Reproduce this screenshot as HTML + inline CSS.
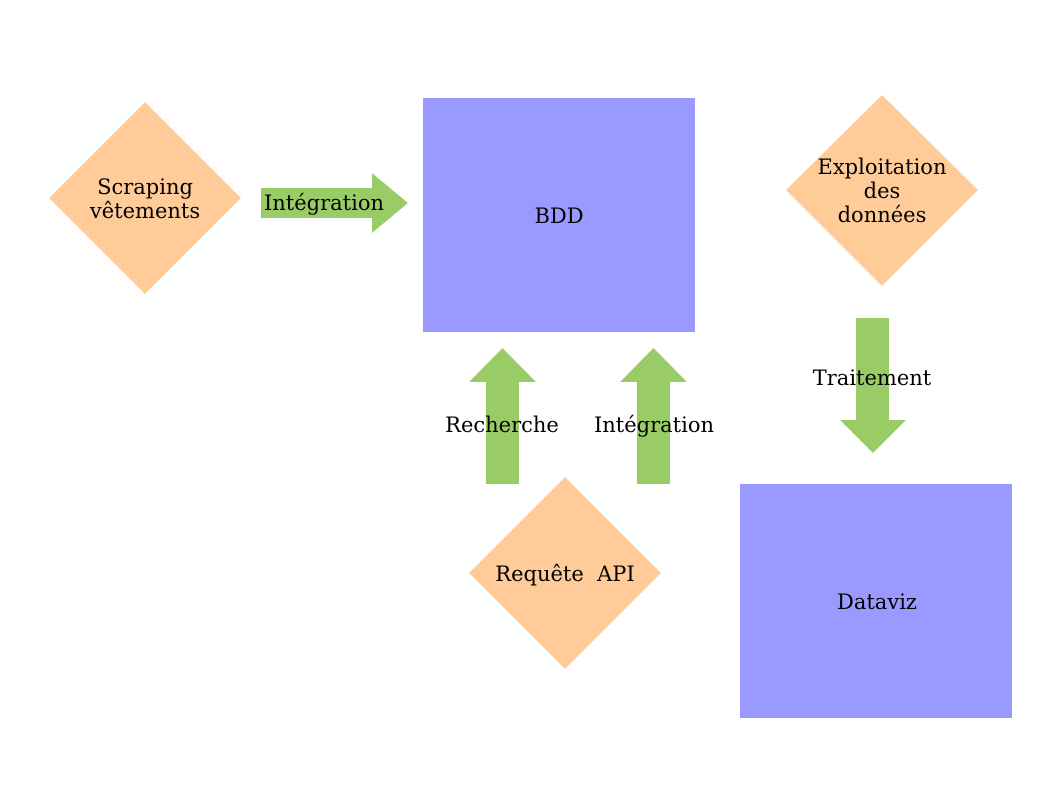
<!DOCTYPE html>
<html><head><meta charset="utf-8"><style>
html,body{margin:0;padding:0;background:#fff;}
svg{display:block;}
text{font-family:"DejaVu Serif","Liberation Serif",serif;font-size:21px;fill:#000;}
</style></head><body>
<svg width="1058" height="794" viewBox="0 0 1058 794" xmlns="http://www.w3.org/2000/svg">
<rect width="1058" height="794" fill="#fff"/>
<polygon points="49,198 145,102 241,198 145,294" fill="#ffcc99"/>
<polygon points="786,190 882,95 978,190 882,286" fill="#ffcc99"/>
<polygon points="469,573 565,477 661,573 565,669" fill="#ffcc99"/>
<rect x="423" y="98" width="272" height="234" fill="#9999ff"/>
<rect x="740" y="484" width="272" height="234" fill="#9999ff"/>
<polygon points="261,188 372,188 372,173 408,203 372,233 372,218 261,218" fill="#99cc66"/>
<polygon points="856,318 889,318 889,420 906,420 873,453 840,420 856,420" fill="#99cc66"/>
<polygon points="486,484 486,382 469,382 502.5,348 536,382 519,382 519,484" fill="#99cc66"/>
<polygon points="637,484 637,382 620,382 653.5,348 687,382 670,382 670,484" fill="#99cc66"/>
<text x="145" y="194" text-anchor="middle">Scraping</text>
<text x="145" y="218" text-anchor="middle">vêtements</text>
<text x="324" y="210" text-anchor="middle">Intégration</text>
<text x="559" y="223" text-anchor="middle">BDD</text>
<text x="882" y="174" text-anchor="middle">Exploitation</text>
<text x="882" y="198" text-anchor="middle">des</text>
<text x="882" y="222" text-anchor="middle">données</text>
<text x="872" y="385" text-anchor="middle">Traitement</text>
<text x="502" y="432" text-anchor="middle">Recherche</text>
<text x="654" y="432" text-anchor="middle">Intégration</text>
<text x="565" y="581" text-anchor="middle">Requête&#160; API</text>
<text x="877" y="609" text-anchor="middle">Dataviz</text>
</svg>
</body></html>
